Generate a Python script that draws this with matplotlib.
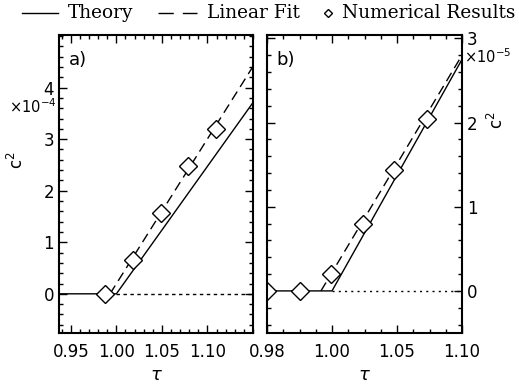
import numpy as np
import matplotlib.pyplot as plt
from matplotlib.lines import Line2D
from matplotlib.ticker import MultipleLocator

# ---- data (c^2 in units of 1e-4 for panel a, 1e-5 for panel b) ----
# panel a
num_a_tau = [0.988, 1.018, 1.049, 1.079, 1.109]
num_a_c2 = [0.0, 0.66, 1.57, 2.47, 3.20]
theory_a_tau = [0.937, 1.00, 1.15]
theory_a_c2 = [0.0, 0.0, 3.71]
fit_a_tau = [0.993, 1.15]
fit_a_c2 = [0.0, 4.41]
zero_a_tau = [1.00, 1.15]

# panel b (x axis drawn on 0.95..1.10, first tick labelled 0.98 as in the original)
num_b_tau = [0.95, 0.975, 0.999, 1.0235, 1.0475, 1.0727]
num_b_c2 = [0.0, 0.0, 0.20, 0.80, 1.44, 2.04]
theory_b_tau = [0.95, 1.00, 1.10]
theory_b_c2 = [0.0, 0.0, 2.75]
fit_b_tau = [0.9915, 1.10]
fit_b_c2 = [0.0, 2.80]
zero_b_tau = [1.00, 1.10]

a_xticks = [0.95, 1.00, 1.05, 1.10]
a_xticklabels = ['0.95', '1.00', '1.05', '1.10']
a_yticks = [0, 1, 2, 3, 4]
b_xticks = [0.95, 1.00, 1.05, 1.10]
b_xticklabels = ['0.98', '1.00', '1.05', '1.10']
b_yticks = [0, 1, 2, 3]

plt.rcParams['font.family'] = 'DejaVu Sans'
plt.rcParams['mathtext.fontset'] = 'dejavusans'

fig = plt.figure(figsize=(5.19, 3.84), dpi=100)
W, H = 519.0, 384.0
axa = fig.add_axes([59 / W, 1 - 333 / H, (253 - 59) / W, (333 - 35) / H])
axb = fig.add_axes([267 / W, 1 - 333 / H, (462 - 267) / W, (333 - 35) / H])

lw = 1.0
dmark = dict(marker='D', ms=9.5, mfc='white', mec='black', mew=1.0, ls='none')


def style_axes(ax, xminor, yminor):
    for s in ax.spines.values():
        s.set_linewidth(1.5)
    ax.xaxis.set_minor_locator(MultipleLocator(xminor))
    ax.yaxis.set_minor_locator(MultipleLocator(yminor))
    ax.tick_params(which='both', direction='in', top=True, bottom=True,
                   left=True, right=True, width=1.0, labelsize=12)
    ax.tick_params(which='major', length=5.5)
    ax.tick_params(which='minor', length=3)
    ax.tick_params(axis='x', pad=7)


# panel a
axa.plot(theory_a_tau, theory_a_c2, color='black', lw=lw)
axa.plot(fit_a_tau, fit_a_c2, color='black', lw=lw, dashes=(7, 4))
axa.plot(zero_a_tau, [0, 0], color='black', lw=lw, dashes=(2.5, 2.5))
axa.plot(num_a_tau, num_a_c2, **dmark)
axa.set_xlim(0.937, 1.15)
axa.set_ylim(-0.76, 5.02)
axa.set_xticks(a_xticks)
axa.set_xticklabels(a_xticklabels)
axa.set_yticks(a_yticks)
style_axes(axa, 0.01, 0.2)
axa.text(0.05, 0.945, 'a)', transform=axa.transAxes, fontsize=13, va='top')
axa.set_xlabel(r'$\tau$', fontsize=13, labelpad=4)
fig.text(17 / W, 1 - 160 / H, r'c$^2$', rotation=90, fontsize=12,
         ha='center', va='center')
fig.text(57 / W, 1 - 107 / H, r'$\times$10$^{-4}$', fontsize=10.5,
         ha='right', va='center')

# panel b
axb.plot(theory_b_tau, theory_b_c2, color='black', lw=lw)
axb.plot(fit_b_tau, fit_b_c2, color='black', lw=lw, dashes=(7, 4))
axb.plot(zero_b_tau, [0, 0], color='black', lw=lw, dashes=(1.5, 3))
axb.plot(num_b_tau, num_b_c2, **dmark)
axb.set_xlim(0.95, 1.10)
axb.set_ylim(-0.5, 3.04)
axb.set_xticks(b_xticks)
axb.set_xticklabels(b_xticklabels)
axb.set_yticks(b_yticks)
style_axes(axb, 0.0125, 0.2)
axb.tick_params(labelleft=False, labelright=True)
axb.text(0.05, 0.945, 'b)', transform=axb.transAxes, fontsize=13, va='top')
axb.set_xlabel(r'$\tau$', fontsize=13, labelpad=4)
fig.text(497 / W, 1 - 120 / H, r'c$^2$', rotation=90, fontsize=12,
         ha='center', va='center')
fig.text(464 / W, 1 - 57 / H, r'$\times$10$^{-5}$', fontsize=10.5,
         ha='left', va='center')

# legend across the top
ly = 1 - 13 / H
lfont = dict(fontsize=13.3, family='DejaVu Serif', va='center')
fig.add_artist(Line2D([22 / W, 58 / W], [ly, ly], color='black', lw=lw))
fig.text(68 / W, ly, 'Theory', **lfont)
fig.add_artist(Line2D([158 / W, 197 / W], [ly, ly], color='black', lw=lw,
                      dashes=(11, 6.5)))
fig.text(207 / W, ly, 'Linear Fit', **lfont)
fig.add_artist(Line2D([328 / W], [ly], marker='D', ms=4.5, mfc='white',
                      mec='black', mew=1.0, ls='none'))
fig.text(342 / W, ly, 'Numerical Results', **lfont)

fig.savefig('out.png', dpi=100)
